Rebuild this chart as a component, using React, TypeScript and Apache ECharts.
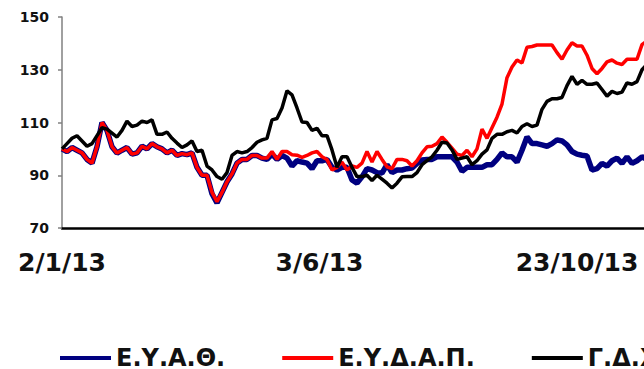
import React, { useEffect, useRef } from "react";
import * as echarts from "echarts";

// Each sample is two trading days apart, starting on 2/1/13.
const STEP_DAYS = 2;

const seriesNames = ["Ε.Υ.Α.Θ.", "Ε.Υ.Δ.Α.Π.", "Γ.Δ.Χ.Α."];

const eyathValues = [
  100, 99, 100.5, 99.5, 98.5, 96, 94.6, 100.8, 110, 107,
  100.8, 98.4, 99.5, 100.5, 98, 98.5, 101, 100, 102, 100.8,
  100, 98.5, 99.5, 97.5, 98.2, 97.8, 98.5, 93, 90, 90,
  83, 79.5, 83.5, 87.5, 90.5, 94.6, 96, 96, 97.5, 97.5,
  96.5, 96, 98, 96, 97.5, 96.5, 93.5, 95.5, 95, 94.6,
  92.5, 95.5, 95.5, 96, 93, 92, 93, 93, 88.2, 87,
  89.4, 92.5, 92, 91, 90.8, 94, 91, 92, 92, 92.5,
  92.7, 94.5, 95.8, 96, 96, 97, 97, 97, 97, 95,
  91.5, 93, 93, 93, 93, 94, 94, 96, 98.5, 97,
  97, 95, 99.5, 104.5, 102, 102, 101.5, 101, 102, 103.4,
  103, 101.5, 99, 98, 97.6, 97.3, 92, 92.5, 94.5, 93.5,
  95.5, 96.5, 94.5, 97, 94.5, 95.5, 97, 96, 96,
];

const eydapValues = [
  100, 99, 100.5, 99.5, 98.5, 96, 94.6, 100.8, 110, 107,
  100.8, 98.4, 99.5, 100.5, 98, 98.5, 101, 100, 102, 100.8,
  100, 98.5, 99.5, 97.5, 98.2, 97.8, 98.5, 93, 90, 90,
  83.5, 80, 83.5, 87.5, 90.5, 94.6, 96, 96, 97.5, 97.5,
  96.5, 96.5, 99, 96, 99, 99, 97.8, 97.6, 96.8, 97.5,
  98.5, 99, 97, 96, 92, 93, 95, 92, 93.5, 93,
  94.6, 99, 95, 99, 96, 93.2, 92.5, 96, 96, 95.5,
  93.5, 95.5, 98.5, 100.8, 101, 102, 104.5, 102.5, 100.3, 98,
  97.5, 99.5, 97, 100, 107.5, 104, 108, 112, 117, 127,
  131, 133.7, 132.6, 138.5, 138.8, 139.4, 139.4, 139.4, 139.4, 136.5,
  134, 137.5, 140.2, 139, 139, 135.5, 130.5, 128.5, 130.5, 133,
  133.7, 132.5, 132, 134, 134, 134, 139.5, 141, 140,
];

const gdxaValues = [
  100, 102, 104, 105, 103, 101, 102, 105, 108, 107.5,
  106, 104.5, 107, 110.5, 108.5, 109, 110.5, 110, 111, 105.5,
  105.5, 106.4, 104, 102.2, 100.5, 101.5, 103, 99, 99.5, 93.5,
  92, 89.5, 88.5, 91, 97.5, 99, 98.5, 99, 100.5, 102.5,
  103.4, 104, 111, 111.5, 115.5, 122, 120.5, 115.5, 110.2, 110,
  107, 107.8, 105, 105, 99.6, 93, 97, 97, 93, 89.5,
  89.5, 90, 88, 90, 88.5, 87, 85.2, 87, 89.4, 89.5,
  89.5, 91, 94, 95.5, 97, 99.5, 102.5, 102.2, 99.6, 96,
  96.5, 97, 94, 95.5, 98, 99.6, 104, 105.5, 105.5, 106.5,
  107, 106, 108.5, 109.5, 108.5, 109, 115, 118, 119, 119,
  119.5, 124, 127.5, 124.5, 126, 124.5, 124.5, 125, 122.5, 120,
  121.8, 121, 121.5, 125, 124.5, 125.5, 130, 132, 131,
];

const xTickDays = [0, 103, 206];
const xTickLabels = ["2/1/13", "3/6/13", "23/10/13"];

const yMin = 70;
const yMax = 150;
const yInterval = 20;

const seriesColors = ["#000080", "#FF0000", "#000000"];
const seriesWidths = [5.5, 3.5, 3.5];

const toPairs = (vals: number[]) => vals.map((v, i) => [i * STEP_DAYS, v]);

export default function App() {
  const ref = useRef<HTMLDivElement>(null);

  useEffect(() => {
    if (!ref.current) return;
    const chart = echarts.init(ref.current, null, { renderer: "svg" });
    const allValues = [eyathValues, eydapValues, gdxaValues];
    const font = "'DejaVu Sans', Verdana, sans-serif";
    chart.setOption({
      animation: false,
      backgroundColor: "#ffffff",
      grid: { left: 62, top: 17, width: 650, height: 211, containLabel: false },
      xAxis: {
        type: "value",
        min: 0,
        max: 260,
        interval: 103,
        axisLine: { show: true, onZero: false, lineStyle: { color: "#000", width: 2.5 } },
        axisTick: { show: false },
        splitLine: { show: false },
        axisLabel: {
          margin: 24,
          fontFamily: font,
          fontWeight: "bold",
          fontSize: 25,
          lineHeight: 20,
          color: "#111",
          formatter: (v: number) => {
            const k = xTickDays.indexOf(v);
            return k >= 0 ? xTickLabels[k] : "";
          },
        },
      },
      yAxis: {
        type: "value",
        min: yMin,
        max: yMax,
        interval: yInterval,
        axisLine: { show: true, lineStyle: { color: "#808080", width: 1.5 } },
        axisTick: { show: true, inside: false, length: 4, lineStyle: { color: "#808080", width: 1.5 } },
        splitLine: { show: false },
        axisLabel: {
          margin: 13,
          fontFamily: font,
          fontWeight: "bold",
          fontSize: 14,
          color: "#111",
        },
      },
      legend: {
        left: 60,
        top: 346,
        padding: 0,
        icon: "rect",
        itemWidth: 51,
        itemHeight: 4,
        itemGap: 57,
        textStyle: { fontFamily: font, fontWeight: "bold", fontSize: 24, lineHeight: 18, color: "#111" },
        data: seriesNames,
      },
      series: seriesNames.map((name, k) => ({
        name,
        type: "line",
        data: toPairs(allValues[k]),
        showSymbol: false,
        symbol: "none",
        lineStyle: { color: seriesColors[k], width: seriesWidths[k] },
        itemStyle: { color: seriesColors[k] },
        z: 2 + k,
      })),
    });
    return () => chart.dispose();
  }, []);

  return (
    <div
      style={{
        position: "fixed",
        left: 0,
        top: 0,
        width: 644,
        height: 369,
        overflow: "hidden",
        background: "#fff",
      }}
    >
      <div ref={ref} style={{ width: 720, height: 369 }} />
    </div>
  );
}
